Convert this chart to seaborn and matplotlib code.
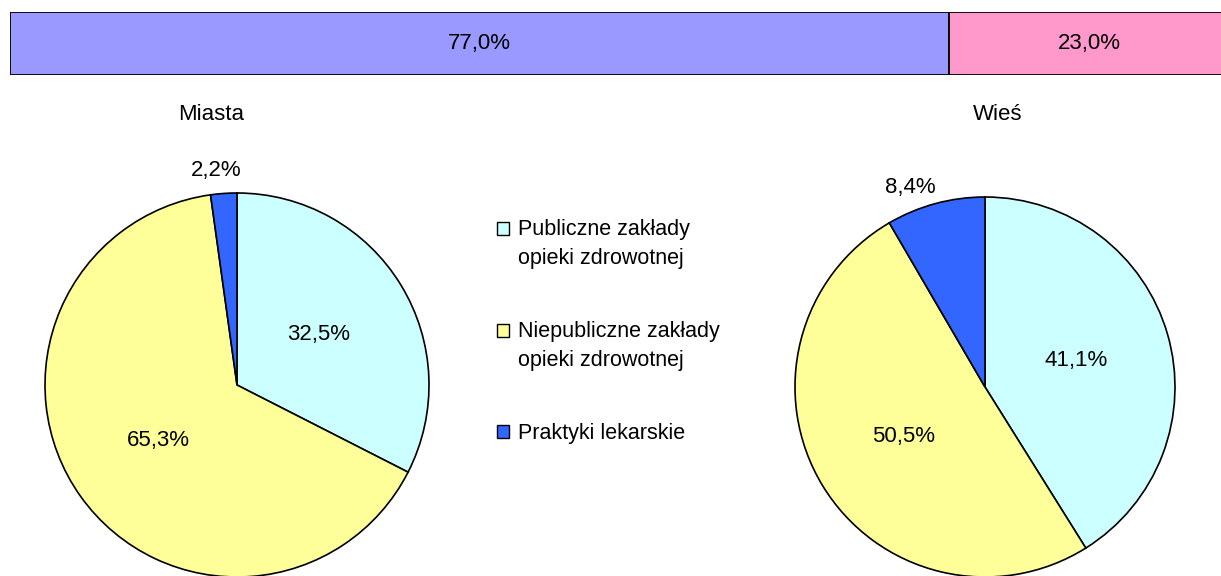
import matplotlib
matplotlib.use("Agg")
import numpy as np
import matplotlib.pyplot as plt
import matplotlib.patches as mpatches
from matplotlib.legend_handler import HandlerPatch
import seaborn as sns

# Data
area_labels = ["Miasta", "Wieś"]
area_share = [77.0, 23.0]
area_colors = ["#9999FF", "#FF99CC"]

categories = ["Publiczne zakłady\nopieki zdrowotnej",
              "Niepubliczne zakłady\nopieki zdrowotnej",
              "Praktyki lekarskie"]
miasta = [32.5, 65.3, 2.2]
wies = [41.1, 50.5, 8.4]
pie_colors = ["#CCFFFF", "#FFFF99", "#3366FF"]

sns.set_theme(style="white")
plt.rcParams["font.family"] = ["Liberation Sans", "DejaVu Sans"]
plt.rcParams["font.size"] = 16
plt.rcParams["text.color"] = "black"

W, H = 1221, 576
FS = 16
fig = plt.figure(figsize=(W / 100, H / 100), dpi=100)


def px_axes(x0, y0, x1, y1):
    return fig.add_axes([x0 / W, (H - y1) / H, (x1 - x0) / W, (y1 - y0) / H])


# Top stacked bar (runs a little past the right edge)
ax_bar = px_axes(10, 12, 1230, 75)
left = 0
for val, col in zip(area_share, area_colors):
    ax_bar.barh(0, val, left=left, height=1, color=col, edgecolor="black", linewidth=1.3)
    ax_bar.text(left + val / 2, 0, f"{val:.1f}%".replace(".", ","), ha="center", va="center",
                fontsize=FS, color="black")
    left += val
ax_bar.set_xlim(0, 100)
ax_bar.set_ylim(-0.5, 0.5)
ax_bar.axis("off")


def draw_pie(cx, cy, r, values, title, title_xy, shift):
    ax = px_axes(cx - r, cy - r, cx + r, cy + r)
    wedges, texts, autotexts = ax.pie(
        values, colors=pie_colors, startangle=90, counterclock=False,
        autopct=lambda p: f"{p:.1f}%".replace(".", ","), pctdistance=0.5,
        wedgeprops=dict(edgecolor="black", linewidth=1.2),
        textprops=dict(fontsize=FS, color="black"))
    # small slice label outside the pie
    w = wedges[2]
    ang = np.deg2rad((w.theta1 + w.theta2) / 2 + shift)
    autotexts[2].set_position((1.15 * np.cos(ang), 1.12 * np.sin(ang)))
    ax.set_xlim(-1, 1)
    ax.set_ylim(-1, 1)
    ax.set_aspect("equal")
    for t in autotexts:
        t.set_clip_on(False)
    fig.text(title_xy[0] / W, 1 - title_xy[1] / H, title, ha="center", va="center",
             fontsize=FS, color="black")


draw_pie(237, 385, 192, miasta, area_labels[0], (211, 114), 1.5)
draw_pie(985, 387, 190, wies, area_labels[1], (998, 114), 5)


def make_handler(shift):
    def patch_func(legend, orig_handle, xdescent, ydescent, width, height, fontsize):
        return mpatches.Rectangle((-xdescent, -ydescent + shift * fontsize), width, height)
    return HandlerPatch(patch_func=patch_func)


handles = [mpatches.Patch(facecolor=c, edgecolor="black", linewidth=1.0) for c in pie_colors]
hmap = {h: make_handler(0.72 if "\n" in lab else 0.0) for h, lab in zip(handles, categories)}
leg = fig.legend(handles, categories, loc="upper left", bbox_to_anchor=(478 / W, 1 - 200 / H),
                 frameon=False, fontsize=15.5, handlelength=0.55, handleheight=0.55,
                 handletextpad=0.4, labelspacing=2.45, handler_map=hmap)
for t in leg.get_texts():
    t.set_linespacing(1.45)

fig.savefig("out.png", dpi=100)
